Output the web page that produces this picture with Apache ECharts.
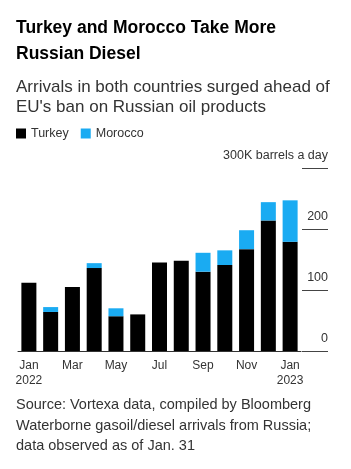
<!DOCTYPE html>
<html>
<head>
<meta charset="utf-8">
<script src="https://cdn.jsdelivr.net/npm/echarts@6/dist/echarts.min.js"></script>
<style>
	html, body { margin: 0; padding: 0; background: #fff; }
	#chart { width: 351px; height: 469px; }
</style>
</head>
<body>
<div id="chart"></div>
<script>
// 月份
const months = ['Jan\n2022', 'Feb', 'Mar', 'Apr', 'May', 'Jun', 'Jul', 'Aug', 'Sep', 'Oct', 'Nov', 'Dec', 'Jan\n2023']
// 千桶/日
const turkey = [112, 64, 105, 136, 57, 60, 145, 148, 130, 141, 167, 214, 179]
const morocco = [0, 8, 0, 8, 13, 0, 0, 0, 31, 24, 31, 30, 68]
const yTicks = [0, 100, 200, 300]

const font = 'Liberation Sans, Arial, sans-serif'
const myChart = echarts.init(document.getElementById('chart'))

const option = {
	animation: false,
	textStyle: { fontFamily: font },
	title: [
		{
			text: 'Turkey and Morocco Take More\nRussian Diesel',
			subtext: 'Arrivals in both countries surged ahead of\nEU\'s ban on Russian oil products',
			left: 16,
			top: 15,
			padding: 0,
			itemGap: 10,
			textStyle: { fontFamily: font, fontSize: 17.5, fontWeight: 'bold', color: '#000', lineHeight: 26 },
			subtextStyle: { fontFamily: font, fontSize: 17, color: '#333', lineHeight: 20.5 }
		},
		{
			text: 'Source: Vortexa data, compiled by Bloomberg\nWaterborne gasoil/diesel arrivals from Russia;\ndata observed as of Jan. 31',
			left: 16,
			top: 395,
			padding: 0,
			textStyle: { fontFamily: font, fontSize: 14.5, fontWeight: 'normal', color: '#333', lineHeight: 20.5 }
		}
	],
	legend: {
		left: 16,
		top: 127,
		padding: 0,
		icon: 'rect',
		itemWidth: 10,
		itemHeight: 10,
		itemGap: 12,
		textStyle: { fontFamily: font, fontSize: 12.5, color: '#333' },
		data: ['Turkey', 'Morocco']
	},
	grid: [
		{ left: 18, right: 50, top: 168, bottom: 118 },
		{ left: 302, right: 23, top: 168, bottom: 118 }
	],
	xAxis: [
		{
			type: 'category',
			gridIndex: 0,
			data: months,
			axisLine: { lineStyle: { color: '#333', width: 1 } },
			axisTick: { interval: 1, alignWithLabel: true, length: 4, lineStyle: { color: '#999' } },
			axisLabel: { interval: 1, fontFamily: font, fontSize: 12, color: '#333', margin: 7, lineHeight: 15 }
		},
		{
			type: 'value',
			gridIndex: 1,
			show: false
		}
	],
	yAxis: [
		{
			type: 'value',
			gridIndex: 0,
			min: 0,
			max: 300,
			interval: 100,
			axisLine: { show: false },
			axisTick: { show: false },
			axisLabel: { show: false },
			splitLine: { show: false }
		},
		{
			type: 'value',
			gridIndex: 1,
			min: 0,
			max: 300,
			interval: 100,
			position: 'right',
			axisLine: { show: false },
			axisTick: { show: false },
			splitLine: { show: true, lineStyle: { color: '#444', width: 1 } },
			axisLabel: {
				inside: true,
				margin: 0,
				fontFamily: font,
				fontSize: 12.5,
				color: '#333',
				verticalAlign: 'bottom',
				lineHeight: 14,
				padding: [0, 0, 5, 0],
				formatter: function(value) {
					// 顶部刻度带单位
					if (value === yTicks[yTicks.length - 1]) return value + 'K barrels a day'
					return value
				}
			}
		}
	],
	series: [
		{
			name: 'Turkey',
			type: 'bar',
			stack: 'total',
			barWidth: 15,
			itemStyle: { color: '#000' },
			data: turkey
		},
		{
			name: 'Morocco',
			type: 'bar',
			stack: 'total',
			barWidth: 15,
			itemStyle: { color: '#1aabf2' },
			data: morocco
		}
	]
}
myChart.setOption(option)
</script>
</body>
</html>
